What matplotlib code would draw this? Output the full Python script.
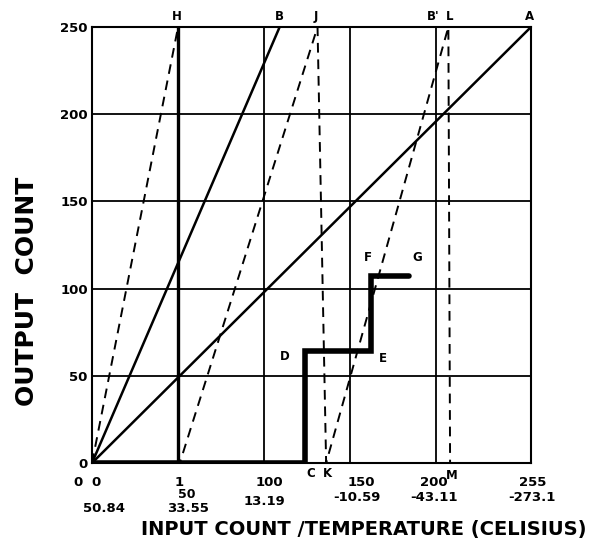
# Figura: cuenta de salida vs cuenta de entrada / temperatura
import matplotlib.pyplot as plt

# Rejilla y etiquetas de los ejes
grid_x = [0, 50, 100, 150, 200, 255]
grid_y = [0, 50, 100, 150, 200, 250]
y_labels = ['0', '50', '100', '150', '200', '250']
count_labels = ['0', '1', '100', '150', '200', '255']
temp_labels = ['50.84', '33.55', '13.19', '-10.59', '-43.11', '-273.1']

# Rectas solidas desde el origen (0-A y 0-B)
line_a_x = [0, 255]
line_a_y = [0, 250]
line_b_x = [0, 109]
line_b_y = [0, 250]

# Diente de sierra discontinuo 0-H, J-K, L-M
saw_x = [0, 50, 50, 51, 131, 136, 207, 208]
saw_y = [0, 250, 0, 0, 250, 0, 250, 0]

# Escalera gruesa 0-C-D-E-F-G
step_x = [0, 124, 124, 162, 162, 184]
step_y = [0, 0, 64, 64, 107, 107]

# Letras de los puntos
pt_names = ['H', 'B', 'J', "B'", 'L', 'A', 'C', 'K', 'M', 'D', 'E', 'F', 'G']
pt_x = [49, 109, 130, 198, 208, 254, 127, 137, 209, 112, 169, 160, 189]
pt_y = [256, 256, 256, 256, 256, 256, -6, -6, -7, 61, 60, 118, 118]

fig = plt.figure(figsize=(5.91, 5.44), dpi=100)
ax = fig.add_axes([92 / 591, 81 / 544, 439 / 591, 436 / 544])

ax.set_xlim(0, 255)
ax.set_ylim(0, 250)

# rejilla
for gx in grid_x:
    ax.axvline(gx, color='black', lw=1.3, zorder=1)
for gy in grid_y:
    ax.axhline(gy, color='black', lw=1.3, zorder=1)
ax.axvline(50, color='black', lw=2.4, zorder=1)

ax.plot(line_a_x, line_a_y, color='black', lw=1.8, zorder=2)
ax.plot(line_b_x, line_b_y, color='black', lw=1.8, zorder=2)
ax.plot(saw_x, saw_y, color='black', lw=1.4, ls=(0, (5, 3.5)), zorder=2)
ax.plot(step_x, step_y, color='black', lw=4, zorder=3,
        solid_capstyle='round', solid_joinstyle='miter')

for sp in ax.spines.values():
    sp.set_linewidth(1.5)

ax.set_xticks([])
ax.set_yticks(grid_y)
ax.set_yticklabels(y_labels, fontsize=9.5, fontweight='bold')
ax.tick_params(axis='y', length=0, pad=3)

# etiquetas del eje x (cuenta y temperatura), desplazamientos en puntos
count_nudge = [3, 1, 4, 8, -2, 1]
temp_nudge = [9, 7, 0, 5, -2, 1]
temp_drop = [33, 33, 28, 25, 25, 25]
trans = ax.get_xaxis_transform()
for gx, lab, nx in zip(grid_x, count_labels, count_nudge):
    ax.annotate(lab, (gx, 0), xycoords=trans, xytext=(nx, -14),
                textcoords='offset points', ha='center', va='center',
                fontsize=9.5, fontweight='bold')
for gx, lab, nx, dy in zip(grid_x, temp_labels, temp_nudge, temp_drop):
    ax.annotate(lab, (gx, 0), xycoords=trans, xytext=(nx, -dy),
                textcoords='offset points', ha='center', va='center',
                fontsize=9.5, fontweight='bold')
ax.annotate('0', (0, 0), xycoords=trans, xytext=(-10, -14),
            textcoords='offset points', ha='center', va='center',
            fontsize=9.5, fontweight='bold')
ax.annotate('50', (50, 0), xycoords=trans, xytext=(6, -23),
            textcoords='offset points', ha='center', va='center',
            fontsize=9, fontweight='bold')

for name, px, py in zip(pt_names, pt_x, pt_y):
    ax.text(px, py, name, ha='center', va='center', fontsize=8.5,
            fontweight='bold', clip_on=False)

fig.text(27 / 591, 0.465, 'OUTPUT  COUNT', rotation=90, ha='center',
         va='center', fontsize=18, fontweight='bold')
fig.text(0.616, 0.026, 'INPUT COUNT /TEMPERATURE (CELISIUS)', ha='center',
         va='center', fontsize=14, fontweight='bold')

fig.savefig('out.png', dpi=100)
